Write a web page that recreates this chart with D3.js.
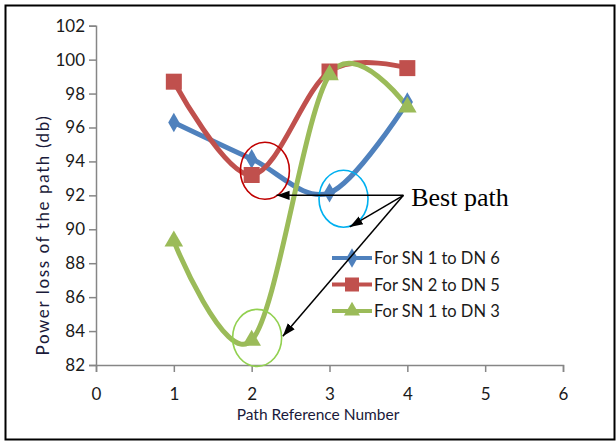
<!DOCTYPE html>
<html><head><meta charset="utf-8">
<script src="https://cdn.jsdelivr.net/npm/d3@7"></script>
<style>html,body{margin:0;padding:0;background:#fff}</style>
</head><body>
<svg id="c" width="616" height="441"></svg>
<script>
const xPath = [1, 2, 3, 4];
const sn1dn6 = [96.3, 94.15, 92.15, 97.5];
const sn2dn5 = [98.7, 93.2, 99.3, 99.5];
const sn1dn3 = [89.3, 83.45, 99.1, 97.2];
const seriesNames = ["For SN 1 to DN 6", "For SN 2 to DN 5", "For SN 1 to DN 3"];
const xTicks = [0, 1, 2, 3, 4, 5, 6];
const yTicks = [82, 84, 86, 88, 90, 92, 94, 96, 98, 100, 102];
// annotation anchors in data coordinates
const ellipses = [{x: 2.17, y: 93.45, c: "#C00000"}, {x: 3.18, y: 91.8, c: "#00B0F0"}, {x: 2.07, y: 83.6, c: "#92D050"}];
const arrowFrom = {x: 3.95, y: 92.0};
const arrowTo = [{x: 2.32, y: 92.0}, {x: 3.26, y: 90.14}, {x: 2.40, y: 83.7}];
const noteText = "Best path";

const svg = d3.select("#c");
const x = d3.scaleLinear().domain([0, 6]).range([96, 563]);
const y = d3.scaleLinear().domain([82, 102]).range([365, 25.7]);
const colors = ["#4F81BD", "#C0504D", "#9BBB59"];
const data = [sn1dn6, sn2dn5, sn1dn3];

svg.append("rect").attr("x", 5.5).attr("y", 5.5).attr("width", 609).attr("height", 434)
  .attr("fill", "#fff").attr("stroke", "#000").attr("stroke-width", 2);

const defs = svg.append("defs");
defs.append("marker").attr("id", "ah2").attr("viewBox", "0 0 10 10").attr("refX", 10).attr("refY", 5)
  .attr("markerWidth", 13).attr("markerHeight", 13).attr("markerUnits", "userSpaceOnUse").attr("orient", "auto")
  .append("path").attr("d", "M0,1.5 L10,5 L0,8.5 Z").attr("fill", "#000");

// axes
const axisColor = "#868686";
const yAxis = svg.append("g").attr("transform", `translate(${x(0)},0)`)
  .call(d3.axisLeft(y).tickValues(yTicks).tickSize(7).tickPadding(4).tickFormat(d3.format("d")));
const xAxis = svg.append("g").attr("transform", `translate(0,${y(82)})`)
  .call(d3.axisBottom(x).tickValues(xTicks).tickSize(7).tickPadding(16).tickFormat(d3.format("d")));
[yAxis, xAxis].forEach(g => {
  g.select(".domain").attr("stroke", axisColor).attr("stroke-width", 1.5);
  g.selectAll(".tick line").attr("stroke", axisColor).attr("stroke-width", 1.5);
  g.selectAll(".tick text").attr("fill", "#1a1a1a").style("font-family", "Lato, 'Open Sans', sans-serif").style("font-size", "17px");
});

svg.append("text").attr("x", 318).attr("y", 420).attr("text-anchor", "middle")
  .style("font-family", "Lato, sans-serif").style("font-size", "15.5px").attr("fill", "#1a1a3a")
  .text("Path Reference Number");
svg.append("text").attr("transform", "translate(49,235) rotate(-90)").attr("text-anchor", "middle")
  .style("font-family", "Lato, sans-serif").style("font-size", "17px").style("letter-spacing", "1.6px").attr("fill", "#1a1a3a")
  .text("Power loss of the path (db)");

// lines
const line = d3.line().x((d, i) => x(xPath[i])).y(d => y(d)).curve(d3.curveCardinal.tension(0));
data.forEach((s, k) => {
  svg.append("path").datum(s).attr("d", line).attr("fill", "none")
    .attr("stroke", colors[k]).attr("stroke-width", 5).attr("stroke-linejoin", "round");
});

function marker(g, k, cx, cy) {
  if (k === 0) g.append("path").attr("d", d3.symbol(d3.symbolDiamond, 110)()).attr("transform", `translate(${cx},${cy})`).attr("fill", colors[0]);
  if (k === 1) g.append("rect").attr("x", cx - 8).attr("y", cy - 8).attr("width", 16).attr("height", 16).attr("fill", colors[1]);
  if (k === 2) g.append("path").attr("d", d3.symbol(d3.symbolTriangle, 150)()).attr("transform", `translate(${cx},${cy})`).attr("fill", colors[2]);
}
const mg = svg.append("g");
data.forEach((s, k) => s.forEach((v, i) => marker(mg, k, x(xPath[i]), y(v))));

// legend
const lg = svg.append("g");
seriesNames.forEach((n, k) => {
  const ly = 258 + k * 26.5;
  lg.append("line").attr("x1", 332).attr("x2", 372).attr("y1", ly).attr("y2", ly).attr("stroke", colors[k]).attr("stroke-width", 4);
  const sm = lg.append("g");
  if (k === 0) marker(sm, 0, 352, ly);
  if (k === 1) sm.append("rect").attr("x", 345).attr("y", ly - 7).attr("width", 14).attr("height", 14).attr("fill", colors[1]);
  if (k === 2) sm.append("path").attr("d", d3.symbol(d3.symbolTriangle, 110)()).attr("transform", `translate(352,${ly})`).attr("fill", colors[2]);
  lg.append("text").attr("x", 374).attr("y", ly + 6).style("font-family", "Lato, sans-serif").style("font-size", "16.5px")
    .attr("fill", "#1a1a1a").text(n);
});

// ellipses
ellipses.forEach(e => {
  svg.append("ellipse").attr("cx", x(e.x)).attr("cy", y(e.y)).attr("rx", 24.5).attr("ry", 28.5)
    .attr("fill", "none").attr("stroke", e.c).attr("stroke-width", 1.6);
});

// arrows
arrowTo.forEach(t => {
  svg.append("line").attr("x1", x(arrowFrom.x)).attr("y1", y(arrowFrom.y)).attr("x2", x(t.x)).attr("y2", y(t.y))
    .attr("stroke", "#000").attr("stroke-width", 1.5).attr("marker-end", "url(#ah2)");
});
svg.append("text").attr("x", x(4.05)).attr("y", y(91.4)).style("font-family", "'Liberation Serif', 'DejaVu Serif', serif")
  .style("font-size", "26px").attr("fill", "#000").text(noteText);
</script>
</body></html>
